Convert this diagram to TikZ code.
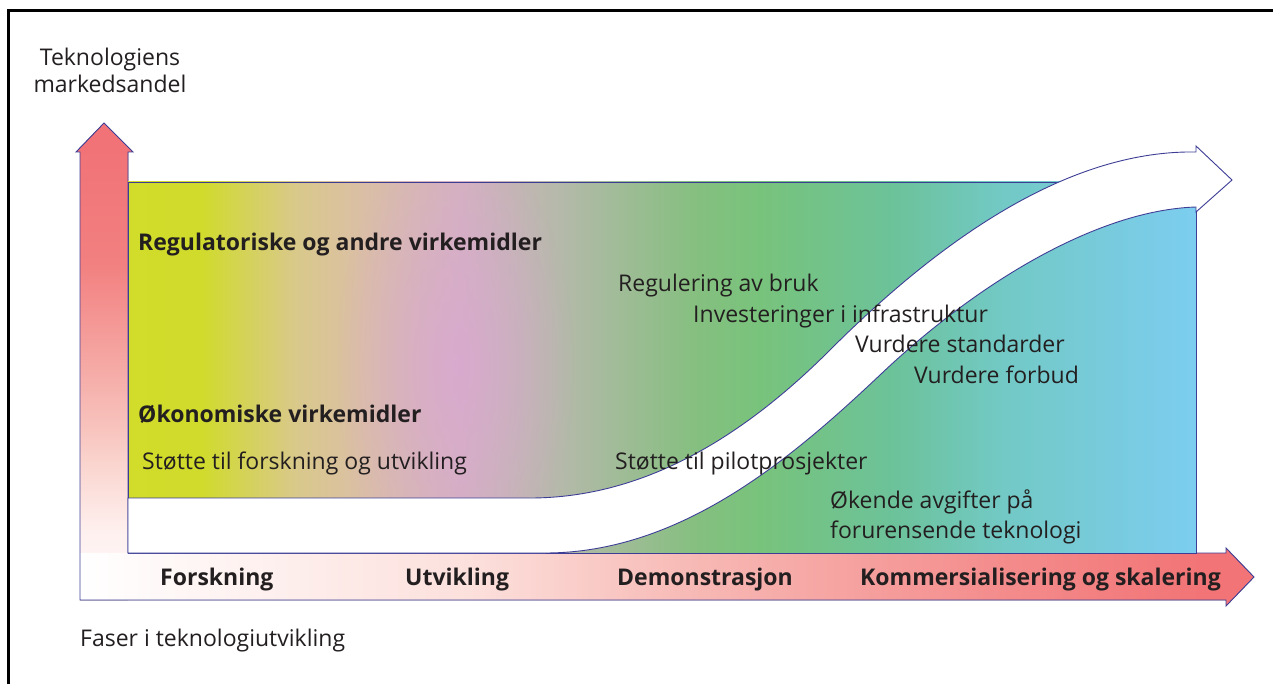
\documentclass[tikz,border=0pt]{standalone}
\usepackage{fontspec}
\setmainfont{Open Sans}
\usetikzlibrary{fadings}
\definecolor{ink}{HTML}{231F20}
\definecolor{edge}{HTML}{3D3D96}
\definecolor{ga}{HTML}{D2DC2A}
\definecolor{gb}{HTML}{D0DB2B}
\definecolor{gc}{HTML}{D9C98A}
\definecolor{gd}{HTML}{DABFA5}
\definecolor{ge}{HTML}{D4B2C0}
\definecolor{gf}{HTML}{B5B9AA}
\definecolor{gg}{HTML}{86BF80}
\definecolor{gh}{HTML}{78C37C}
\definecolor{gi}{HTML}{6CC299}
\definecolor{gj}{HTML}{72C9C4}
\definecolor{gk}{HTML}{7CCDF0}
\definecolor{pinkblob}{HTML}{DAA6D4}
\definecolor{ra}{HTML}{F17377}
\definecolor{rb}{HTML}{F28080}
\definecolor{rc}{HTML}{F5A8A4}
\definecolor{rd}{HTML}{F8C4BE}
\definecolor{re}{HTML}{FAD4CE}
\definecolor{rf}{HTML}{FEF0EE}
\definecolor{rg}{HTML}{FEFAFA}
\definecolor{ha}{HTML}{FCE0DC}
\definecolor{hb}{HTML}{F7B8B4}
\definecolor{hc}{HTML}{F48C8C}
\definecolor{hd}{HTML}{F27476}
\pgfdeclarehorizontalshading{fieldshade}{100bp}{color(0bp)=(ga); color(25bp)=(ga); color(28.4bp)=(gb); color(32.8bp)=(gc); color(35.9bp)=(gd); color(40.6bp)=(ge); color(45.2bp)=(gf); color(51.5bp)=(gg); color(54.6bp)=(gh); color(60.8bp)=(gi); color(65.8bp)=(gj); color(75bp)=(gk); color(100bp)=(gk)}
\pgfdeclareverticalshading{upshade}{100bp}{color(0bp)=(white); color(25bp)=(white); color(26bp)=(rg); color(32.3bp)=(rf); color(39.4bp)=(re); color(42.8bp)=(rd); color(49.8bp)=(rc); color(60.3bp)=(rb); color(72.2bp)=(ra); color(75bp)=(ra); color(100bp)=(ra)}
\pgfdeclarehorizontalshading{rightshade}{100bp}{color(0bp)=(white); color(25bp)=(white); color(41.6bp)=(ha); color(51.4bp)=(hb); color(64.2bp)=(hc); color(72.7bp)=(hd); color(75bp)=(hd); color(100bp)=(hd)}
\tikzfading[name=blobfade, inner color=transparent!30, outer color=transparent!100]
\tikzset{
  outl/.style={draw=edge, line width=0.9pt, line join=miter},
  txt/.style={text=ink, inner sep=0pt, anchor=base west, font=\fontsize{23}{30}\selectfont},
  bld/.style={txt, font=\fontsize{23}{30}\selectfont\bfseries},
}
\begin{document}
\begin{tikzpicture}[x=1pt,y=-1pt]
\useasboundingbox (0,0) rectangle (1273,684);
% frame
\draw[line width=2.5pt] (8.5,690) -- (8.5,10.5) -- (1280,10.5);
% axes arrows
\fill[shading=upshade] (80,600) -- (80,152) -- (76,152) -- (104,123) -- (133,152) -- (128,152) -- (128,600) -- cycle;
\fill[shading=rightshade] (80,553) -- (1226,553) -- (1226,548) -- (1254,577) -- (1226,606) -- (1226,600) -- (80,600) -- cycle;
\draw[outl] (80,600) -- (80,152) -- (76,152) -- (104,123) -- (133,152) -- (128,152) -- (128,553) -- (1226,553) -- (1226,548) -- (1254,577) -- (1226,606) -- (1226,600) -- cycle;
% coloured field
\fill[shading=fieldshade] (128,182) rectangle (1196,553);
\begin{scope}
  \clip (128,182) rectangle (1196,553);
  \fill[pinkblob, path fading=blobfade] (455,365) ellipse [x radius=120, y radius=230];
\end{scope}
\draw[outl] (128,182) rectangle (1196,553);
% white S-arrow
\draw[outl, fill=white] (128,498) -- (530,498)
  .. controls (650,498) and (750,430) .. (830,350)
  .. controls (950,230) and (1075,150) .. (1196,152)
  -- (1196,146) -- (1232,180) -- (1196,212) -- (1196,207)
  .. controls (1100,210) and (980,280) .. (880,375)
  .. controls (790,460) and (680,553) .. (545,553)
  -- (128,553) -- cycle;
% texts
\node[txt, anchor=base, align=center] (ylab) at (110,93) {Teknologiens\\[-3pt]markedsandel};
\node[txt] (xlab) at (80,646) {Faser i teknologiutvikling};
\node[bld] (reg) at (138,251) {Regulatoriske og andre virkemidler};
\node[bld] (oko) at (138,422) {Økonomiske virkemidler};
\node[txt] (fou) at (142,469) {Støtte til forskning og utvikling};
\node[txt] (rab) at (618,291) {Regulering av bruk};
\node[txt] (inv) at (693,322) {Investeringer i infrastruktur};
\node[txt] (vst) at (855,352) {Vurdere standarder};
\node[txt] (vfo) at (914,383) {Vurdere forbud};
\node[txt] (pil) at (615,469) {Støtte til pilotprosjekter};
\node[txt] (avg) at (830,508) {Økende avgifter på};
\node[txt] (for) at (830,538) {forurensende teknologi};
\node[bld] (p1) at (160,585) {Forskning};
\node[bld] (p2) at (405,585) {Utvikling};
\node[bld] (p3) at (617,585) {Demonstrasjon};
\node[bld] (p4) at (860,585) {Kommersialisering og skalering};
\end{tikzpicture}
\end{document}
